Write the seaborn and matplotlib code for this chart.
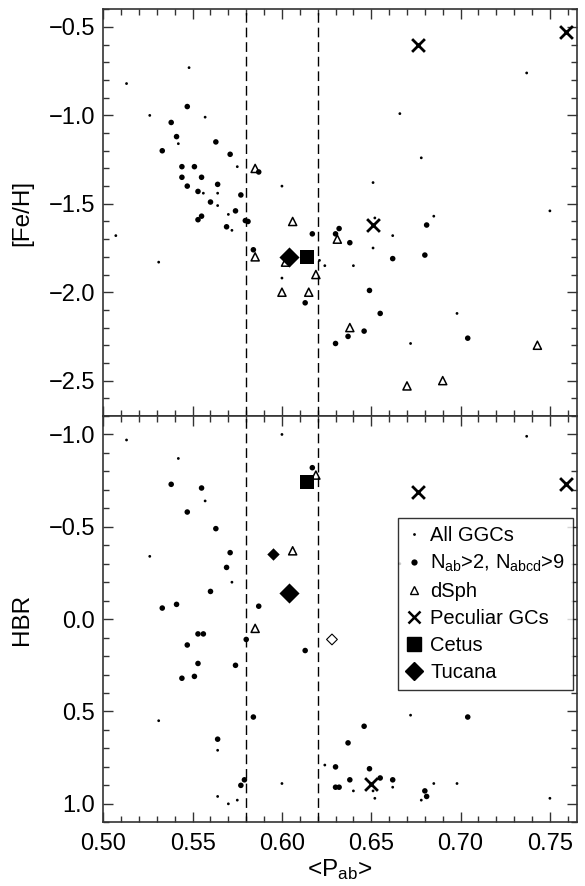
import numpy as np
import pandas as pd
import matplotlib
matplotlib.use("Agg")
import matplotlib.pyplot as plt
from matplotlib.lines import Line2D
from matplotlib.ticker import MultipleLocator, FuncFormatter
import seaborn as sns

# ---- [Fe/H] panel ----
fe_all_p = [0.513, 0.548, 0.526, 0.557, 0.542, 0.575, 0.600, 0.556, 0.564, 0.564, 0.570, 0.572,
            0.507, 0.531, 0.600, 0.621, 0.624, 0.652, 0.651, 0.640, 0.662, 0.685, 0.750, 0.698,
            0.672, 0.737, 0.666, 0.678, 0.651]
fe_all_v = [-0.82, -0.73, -1.00, -1.01, -1.16, -1.29, -1.40, -1.44, -1.44, -1.51, -1.56, -1.65,
            -1.68, -1.83, -1.92, -1.82, -1.85, -1.58, -1.75, -1.85, -1.68, -1.57, -1.54, -2.12,
            -2.29, -0.76, -0.99, -1.24, -1.38]

fe_sel_p = [0.547, 0.538, 0.541, 0.563, 0.533, 0.571, 0.544, 0.551, 0.587, 0.544, 0.555, 0.547,
            0.564, 0.553, 0.577, 0.560, 0.574, 0.553, 0.555, 0.569, 0.5795, 0.581, 0.584, 0.617,
            0.613, 0.630, 0.632, 0.638, 0.662, 0.681, 0.680, 0.649, 0.655, 0.637, 0.646, 0.630,
            0.704]
fe_sel_v = [-0.95, -1.04, -1.12, -1.15, -1.20, -1.22, -1.29, -1.29, -1.32, -1.35, -1.35, -1.40,
            -1.39, -1.43, -1.45, -1.49, -1.54, -1.59, -1.57, -1.63, -1.595, -1.60, -1.76, -1.67,
            -2.06, -1.67, -1.64, -1.72, -1.81, -1.62, -1.79, -1.99, -2.12, -2.25, -2.22, -2.29,
            -2.26]

fe_dsph_p = [0.585, 0.585, 0.606, 0.602, 0.619, 0.600, 0.615, 0.631, 0.638, 0.743, 0.670, 0.690]
fe_dsph_v = [-1.30, -1.80, -1.60, -1.83, -1.90, -2.00, -2.00, -1.70, -2.20, -2.30, -2.53, -2.50]

fe_pec_p = [0.676, 0.759, 0.651]
fe_pec_v = [-0.60, -0.53, -1.62]

fe_cetus_p, fe_cetus_v = [0.614], [-1.80]
fe_tucana_p, fe_tucana_v = [0.604], [-1.80]

# ---- HBR panel ----
hb_all_p = [0.513, 0.542, 0.600, 0.557, 0.526, 0.572, 0.737, 0.666, 0.531, 0.564, 0.600, 0.564,
            0.575, 0.570, 0.624, 0.672, 0.662, 0.651, 0.640, 0.652, 0.678, 0.685, 0.698, 0.750]
hb_all_v = [-0.97, -0.87, -1.00, -0.64, -0.34, -0.20, -0.99, -0.30, 0.55, 0.71, 0.89, 0.96,
            0.98, 1.00, 0.79, 0.52, 0.91, 0.93, 0.93, 0.97, 0.98, 0.89, 0.89, 0.97]

hb_sel_p = [0.538, 0.555, 0.547, 0.563, 0.571, 0.569, 0.560, 0.533, 0.541, 0.587, 0.617, 0.553,
            0.556, 0.547, 0.580, 0.613, 0.553, 0.574, 0.544, 0.551, 0.584, 0.564, 0.579, 0.577,
            0.704, 0.646, 0.637, 0.630, 0.649, 0.638, 0.655, 0.662, 0.630, 0.632, 0.680, 0.681]
hb_sel_v = [-0.73, -0.71, -0.58, -0.49, -0.36, -0.28, -0.15, -0.06, -0.08, -0.07, -0.82, 0.08,
            0.08, 0.14, 0.11, 0.17, 0.24, 0.25, 0.32, 0.31, 0.53, 0.65, 0.87, 0.90,
            0.53, 0.58, 0.67, 0.80, 0.81, 0.87, 0.86, 0.87, 0.91, 0.91, 0.93, 0.96]

hb_dsph_p = [0.619, 0.606, 0.585]
hb_dsph_v = [-0.78, -0.37, 0.05]

hb_pec_p = [0.676, 0.759, 0.650]
hb_pec_v = [-0.69, -0.73, 0.89]

hb_cetus_p, hb_cetus_v = [0.614], [-0.74]
hb_tucana_p, hb_tucana_v = [0.604], [-0.14]
hb_tucana2_p, hb_tucana2_v = [0.595], [-0.35]
hb_open_p, hb_open_v = [0.628], [0.11]

oosterhoff_limits = [0.58, 0.62]

sns.set_style("ticks")
plt.rcParams["font.family"] = ["Liberation Sans", "DejaVu Sans"]
plt.rcParams["mathtext.default"] = "regular"
plt.rcParams["axes.linewidth"] = 1.2
plt.rcParams["text.color"] = "black"
plt.rcParams["axes.labelcolor"] = "black"
plt.rcParams["xtick.labelcolor"] = "black"
plt.rcParams["ytick.labelcolor"] = "black"

fig = plt.figure(figsize=(5.85, 8.86), dpi=100)
ax1 = fig.add_axes([0.1766, 0.5305, 0.8092, 0.4590])
ax2 = fig.add_axes([0.1766, 0.0719, 0.8092, 0.4586])


def df(p, v):
    return pd.DataFrame({"P": p, "y": v})


def draw(ax, all_pv, sel_pv, dsph_pv, pec_pv, cet_pv, tuc_pv):
    sns.scatterplot(data=df(*all_pv), x="P", y="y", ax=ax, marker="o", s=4,
                    color="black", edgecolor="none", linewidth=0, zorder=3)
    sns.scatterplot(data=df(*sel_pv), x="P", y="y", ax=ax, marker="o", s=16,
                    color="black", edgecolor="none", linewidth=0, zorder=3)
    sns.scatterplot(data=df(*dsph_pv), x="P", y="y", ax=ax, marker="^", s=34,
                    facecolor="none", edgecolor="black", linewidth=1.1, zorder=4)
    sns.scatterplot(data=df(*pec_pv), x="P", y="y", ax=ax, marker="x", s=85,
                    color="black", linewidth=2.0, zorder=4)
    sns.scatterplot(data=df(*cet_pv), x="P", y="y", ax=ax, marker="s", s=112,
                    color="black", edgecolor="black", linewidth=0, zorder=5)
    sns.scatterplot(data=df(*tuc_pv), x="P", y="y", ax=ax, marker="D", s=105,
                    color="black", edgecolor="black", linewidth=0, zorder=5)


draw(ax1, (fe_all_p, fe_all_v), (fe_sel_p, fe_sel_v), (fe_dsph_p, fe_dsph_v),
     (fe_pec_p, fe_pec_v), (fe_cetus_p, fe_cetus_v), (fe_tucana_p, fe_tucana_v))
draw(ax2, (hb_all_p, hb_all_v), (hb_sel_p, hb_sel_v), (hb_dsph_p, hb_dsph_v),
     (hb_pec_p, hb_pec_v), (hb_cetus_p, hb_cetus_v), (hb_tucana_p, hb_tucana_v))
sns.scatterplot(data=df(hb_tucana2_p, hb_tucana2_v), x="P", y="y", ax=ax2, marker="D", s=40,
                color="black", edgecolor="black", linewidth=0, zorder=5)
sns.scatterplot(data=df(hb_open_p, hb_open_v), x="P", y="y", ax=ax2, marker="D", s=30,
                facecolor="none", edgecolor="black", linewidth=0.8, zorder=5)


def fmt(digits):
    return FuncFormatter(lambda v, pos: f"{v:.{digits}f}".replace("-", "\u2212"))


for ax in (ax1, ax2):
    for xv in oosterhoff_limits:
        ax.axvline(xv, color="black", lw=1.0, ls=(0, (7, 3.5)), zorder=2)
    ax.set_xlim(0.50, 0.765)
    ax.xaxis.set_major_locator(MultipleLocator(0.05))
    ax.xaxis.set_minor_locator(MultipleLocator(0.01))
    ax.yaxis.set_major_locator(MultipleLocator(0.5))
    ax.yaxis.set_minor_locator(MultipleLocator(0.1))
    ax.tick_params(which="both", direction="in", top=True, right=True, labelsize=17,
                   color="#333333", labelcolor="black")
    ax.tick_params(which="major", length=7, width=1.0)
    ax.tick_params(which="minor", length=4, width=1.0)
    ax.tick_params(axis="x", pad=8)
    ax.tick_params(axis="y", pad=6)
    ax.yaxis.set_major_formatter(fmt(1))
    for sp in ax.spines.values():
        sp.set_color("#333333")

ax1.set_ylim(-2.7, -0.4)
ax1.set_xlabel("")
ax1.tick_params(labelbottom=False)
ax1.set_ylabel("[Fe/H]", fontsize=17.5, color="black")
ax1.yaxis.set_label_coords(-0.148, 0.5)

ax2.set_ylim(1.1, -1.1)
ax2.xaxis.set_major_formatter(fmt(2))
ax2.set_xlabel("<P$_{ab}$>", fontsize=17.5, color="black")
ax2.xaxis.set_label_coords(0.5, -0.085)
ax2.set_ylabel("HBR", fontsize=17.5, color="black")
ax2.yaxis.set_label_coords(-0.148, 0.5)

handles = [
    Line2D([], [], ls="none", marker="o", ms=2, color="black", mec="none"),
    Line2D([], [], ls="none", marker="o", ms=4.5, color="black", mec="none"),
    Line2D([], [], ls="none", marker="^", ms=6, mfc="none", mec="black", mew=1.0),
    Line2D([], [], ls="none", marker="x", ms=9, color="black", mew=1.8),
    Line2D([], [], ls="none", marker="s", ms=10, color="black"),
    Line2D([], [], ls="none", marker="D", ms=9, color="black"),
]
labels = ["All GGCs", "N$_{ab}$>2, N$_{abcd}$>9", "dSph", "Peculiar GCs", "Cetus", "Tucana"]
leg = ax2.legend(handles, labels, loc="upper right", bbox_to_anchor=(0.993, 0.75),
                 fontsize=14.5, frameon=True, fancybox=False, edgecolor="black",
                 handlelength=0.8, handletextpad=0.4, borderpad=0.4, labelspacing=0.4,
                 borderaxespad=0.0)
leg.get_frame().set_linewidth(1.0)
for t in leg.get_texts():
    t.set_color("black")

fig.savefig("out.png", dpi=100)
